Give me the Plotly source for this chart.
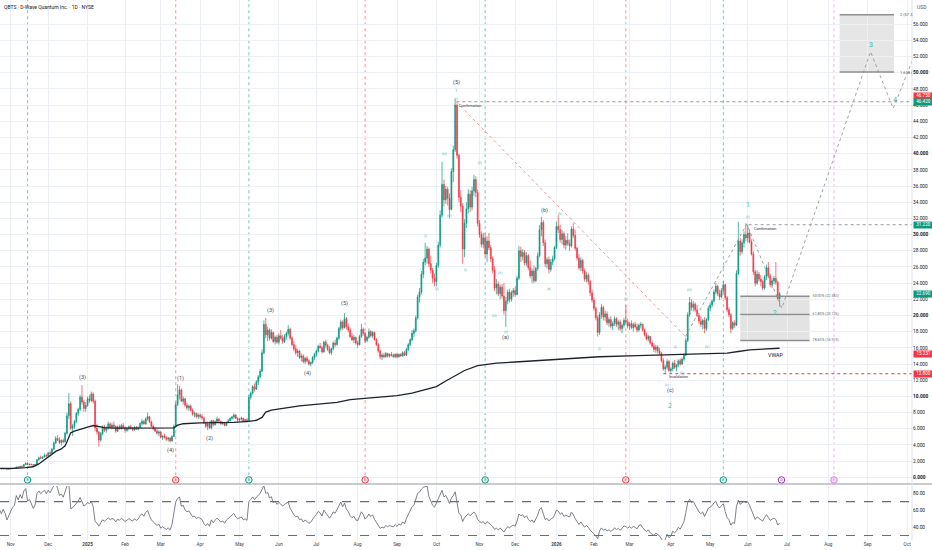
import pandas as pd
import plotly.graph_objects as go

# ---------------- calendar (NYSE holidays in the visible span) ----------------
holidays = ["2024-11-28", "2024-12-25", "2025-01-01", "2025-01-09", "2025-01-20", "2025-02-17",
            "2025-04-18", "2025-05-26", "2025-06-19", "2025-07-04", "2025-09-01", "2025-11-27",
            "2025-12-25", "2026-01-01", "2026-01-19", "2026-02-16", "2026-04-03", "2026-05-25",
            "2026-06-19", "2026-07-03", "2026-09-07"]

# ---------------- daily OHLC, 2024-10-24 .. 2026-06-25 ----------------
open_ = [
    1.02, 1.05, 1.03, 1.06, 1.04, 1.00,
    1.03, 1.05, 1.10, 1.12, 1.27, 1.24, 1.36, 1.33, 1.58, 1.72, 1.56, 1.62, 1.55, 1.48, 1.58, 2.18, 2.42, 2.36, 2.52, 2.70,
    2.62, 3.02, 2.95, 3.48, 4.25, 4.80, 4.62, 4.30, 4.55, 4.40, 5.45, 7.60, 9.10, 6.05, 6.30, 6.90, 7.90, 8.40, 9.90, 9.30, 8.50,
    8.90, 9.70, 9.50, 10.30, 9.40, 6.10, 5.60, 4.60, 5.40, 6.20, 5.80, 6.10, 6.60, 6.20, 6.45, 6.30, 5.70, 6.25, 6.00, 6.40,
    6.10, 5.80, 6.00, 6.25, 6.05, 5.85, 6.20, 5.95, 6.15, 6.65, 6.90, 6.60, 7.20, 7.50, 6.85, 6.30, 6.00, 5.70, 5.45,
    5.60, 4.95, 5.10, 4.90, 4.70, 4.85, 4.50, 5.05, 6.30, 9.00, 10.20, 10.80, 9.40, 9.70, 8.90, 8.60, 8.80, 8.30, 7.80, 7.90, 7.50,
    7.70, 7.50, 7.35, 6.70, 6.30, 6.60, 6.10, 7.00, 6.50, 6.90, 7.20, 6.95, 6.60, 6.75, 6.40, 6.80, 7.00, 7.30, 7.45, 7.70, 7.30,
    7.10, 7.20, 7.30, 7.00, 7.10, 6.95, 9.90, 10.40, 11.20, 10.90, 11.80, 12.40, 13.10, 15.40, 18.90, 17.60, 18.20, 17.20, 17.90, 16.80, 17.30,
    16.70, 17.50, 17.20, 16.80, 17.40, 17.80, 18.30, 17.20, 16.40, 15.90, 15.40, 15.60, 14.80, 15.00, 14.30, 14.70, 14.40, 14.00, 14.20, 14.80,
    15.20, 15.60, 16.20, 16.00, 15.50, 16.70, 16.30, 15.80, 15.40, 15.90, 16.60, 16.40, 17.20, 18.40, 19.20, 18.50, 19.60, 18.60, 18.20, 17.40, 17.00, 17.30,
    16.60, 16.40, 17.40, 18.30, 17.80, 16.90, 17.30, 18.00, 17.50, 17.90, 17.00, 16.40, 15.60, 14.90, 15.10, 14.90, 15.30, 15.00, 15.20, 15.10, 14.90,
    15.20, 14.90, 15.20, 15.00, 15.40, 15.10, 15.80, 16.40, 17.00, 17.80, 18.10, 19.70, 22.30, 22.90, 25.10, 26.60, 27.10, 28.20, 26.40, 25.60, 24.60,
    24.20, 26.20, 28.70, 32.40, 36.20, 34.30, 35.60, 34.50, 33.10, 37.80, 40.50, 46.00, 39.80, 34.60, 33.50, 28.20, 31.40, 33.20, 35.00, 33.40, 35.40, 36.80, 35.20,
    31.40, 30.00, 28.80, 29.60, 27.60, 29.20, 28.40, 27.00, 25.60, 23.40, 23.90, 22.70, 23.50, 22.40, 20.60, 21.80, 22.90, 22.00, 22.80,
    23.10, 22.60, 24.60, 28.00, 27.30, 27.80, 26.50, 27.40, 25.90, 24.90, 25.50, 24.30, 25.80, 27.40, 30.60, 31.50, 29.00, 26.40, 26.90, 25.70, 26.60, 27.00,
    28.40, 31.00, 30.60, 29.40, 30.10, 28.70, 29.30, 28.90, 28.60, 30.70, 29.90, 28.30, 27.10, 25.90, 26.80, 25.50, 24.50, 25.00, 24.20, 22.80,
    21.90, 20.90, 19.70, 17.90, 20.10, 21.00, 19.80, 20.20, 19.10, 19.50, 18.70, 19.00, 19.60, 18.90, 19.20, 18.40, 18.80, 19.40, 19.20,
    18.70, 19.00, 18.50, 18.90, 18.60, 18.20, 18.80, 18.90, 18.20, 17.60, 17.10, 17.40, 16.60, 16.20, 15.80, 16.10, 15.60, 15.30, 14.40, 13.40, 13.60, 14.30,
    13.20, 13.40, 14.10, 13.60, 13.90, 14.40, 14.00, 14.60, 15.10, 16.90, 20.10, 21.60, 21.00, 21.40, 20.70, 20.00, 19.30, 18.90, 19.40, 18.40, 19.50,
    20.90, 21.30, 21.80, 22.90, 23.60, 22.70, 22.30, 23.10, 23.80, 22.20, 20.70, 20.10, 18.40, 19.10, 18.80, 25.20, 29.20, 27.90, 29.00, 30.00,
    29.60, 30.20, 29.10, 27.60, 25.40, 24.00, 25.10, 24.50, 24.20, 23.40, 24.80, 25.90, 24.90, 23.80, 24.30, 24.60, 24.10, 22.10,
]
high_ = [
    1.08, 1.10, 1.08, 1.12, 1.09, 1.06,
    1.08, 1.12, 1.15, 1.30, 1.35, 1.40, 1.45, 1.62, 1.85, 1.80, 1.66, 1.70, 1.62, 1.60, 2.25, 2.55, 2.70, 2.60, 2.95, 2.90,
    3.10, 3.30, 3.60, 4.40, 5.10, 5.20, 4.95, 4.70, 4.80, 5.60, 8.00, 10.40, 9.40, 6.60, 7.10, 8.10, 8.60, 10.20, 11.40, 9.60, 9.30,
    10.00, 10.20, 10.60, 10.50, 9.60, 6.60, 5.70, 5.60, 6.40, 6.50, 6.30, 6.90, 6.80, 6.70, 6.90, 6.40, 6.40, 6.50, 6.60, 6.70,
    6.30, 6.20, 6.40, 6.50, 6.20, 6.30, 6.35, 6.30, 6.80, 7.20, 7.10, 7.40, 8.00, 7.60, 7.00, 6.50, 6.20, 6.00, 5.80,
    5.70, 5.20, 5.40, 5.10, 5.00, 4.95, 5.20, 6.50, 9.30, 11.50, 11.30, 11.00, 10.00, 9.80, 9.20, 9.00, 9.00, 8.50, 8.10, 8.00, 7.90,
    7.90, 7.80, 7.40, 6.90, 6.90, 6.90, 7.10, 7.10, 7.00, 7.50, 7.30, 7.00, 6.90, 6.80, 6.90, 7.20, 7.40, 7.60, 7.90, 7.80, 7.40,
    7.30, 7.50, 7.40, 7.20, 7.30, 10.20, 10.60, 11.40, 11.60, 12.00, 12.60, 13.40, 15.80, 19.40, 19.70, 18.60, 18.40, 18.30, 18.00, 17.50, 17.60,
    17.80, 18.20, 17.60, 17.70, 18.00, 18.80, 18.50, 17.40, 16.80, 16.30, 15.90, 15.70, 15.30, 15.20, 14.90, 15.00, 14.60, 14.30, 15.00, 15.40,
    15.80, 16.40, 16.60, 16.20, 16.90, 17.00, 16.50, 16.20, 16.00, 16.80, 17.00, 17.40, 18.60, 19.50, 19.40, 20.30, 19.80, 19.00, 18.50, 17.80, 17.60, 17.40,
    16.90, 17.60, 19.00, 18.50, 18.00, 17.50, 18.40, 18.20, 18.10, 18.00, 17.20, 16.60, 15.80, 15.30, 15.40, 15.50, 15.40, 15.30, 15.50, 15.30, 15.30,
    15.40, 15.30, 15.30, 15.60, 15.60, 16.00, 16.60, 17.20, 18.20, 18.40, 20.00, 22.60, 23.40, 25.50, 27.00, 29.00, 28.60, 28.40, 27.40, 25.90, 25.20,
    26.50, 29.10, 33.00, 39.00, 36.80, 36.00, 35.90, 35.10, 38.20, 41.00, 46.75, 46.20, 40.00, 35.50, 33.90, 31.90, 34.00, 35.60, 35.50, 35.90, 37.40, 37.20, 35.60,
    31.80, 30.40, 30.20, 30.20, 29.80, 30.20, 28.70, 27.30, 26.10, 24.50, 24.20, 23.80, 23.90, 24.00, 22.30, 23.20, 23.30, 23.10, 23.40,
    23.60, 24.90, 28.60, 28.50, 28.20, 28.10, 27.80, 27.60, 26.80, 25.80, 26.20, 26.00, 27.80, 31.20, 32.20, 31.80, 29.40, 27.20, 27.30, 27.00, 27.40, 28.60,
    31.60, 32.40, 31.20, 30.60, 30.40, 29.80, 30.20, 29.40, 31.00, 31.40, 30.60, 28.50, 27.60, 27.20, 27.00, 25.80, 25.40, 25.30, 24.40, 23.20,
    22.20, 21.10, 20.00, 20.40, 21.40, 21.20, 20.60, 20.50, 19.80, 19.90, 19.30, 19.90, 19.80, 19.40, 19.50, 19.00, 19.70, 21.30, 19.60,
    19.20, 19.40, 19.10, 19.20, 19.00, 19.00, 19.20, 19.00, 18.40, 17.90, 17.60, 17.50, 16.90, 16.60, 16.40, 16.30, 16.00, 15.50, 14.70, 13.90, 14.60, 14.50,
    13.60, 14.30, 14.50, 14.00, 14.60, 14.70, 14.80, 15.30, 17.20, 20.40, 22.30, 22.00, 21.80, 21.60, 21.30, 20.30, 19.90, 19.60, 19.80, 19.70, 21.20,
    21.60, 22.00, 23.20, 24.00, 23.80, 23.20, 23.40, 24.20, 23.90, 22.40, 21.00, 20.30, 19.30, 19.40, 25.60, 31.60, 29.60, 29.40, 30.40, 31.40,
    31.22, 30.60, 29.40, 27.90, 25.60, 25.60, 25.40, 25.00, 24.40, 25.00, 26.30, 26.60, 25.20, 24.60, 24.90, 26.60, 24.30, 22.90,
]
low_ = [
    0.98, 1.00, 0.99, 1.02, 0.98, 0.97,
    1.00, 1.03, 1.06, 1.10, 1.20, 1.22, 1.28, 1.30, 1.50, 1.52, 1.45, 1.50, 1.44, 1.42, 1.55, 2.05, 2.30, 2.25, 2.45, 2.48,
    2.55, 2.85, 2.90, 3.40, 4.10, 4.45, 4.10, 3.95, 4.20, 4.30, 5.30, 7.20, 5.80, 5.10, 6.00, 6.70, 7.60, 8.20, 9.00, 8.10, 8.10,
    8.70, 9.20, 9.30, 9.10, 5.70, 5.30, 3.80, 4.40, 5.20, 5.60, 5.50, 5.90, 6.00, 5.90, 6.10, 5.50, 5.60, 5.90, 5.90, 6.00,
    5.50, 5.60, 5.80, 5.90, 5.70, 5.75, 5.85, 5.80, 6.05, 6.40, 6.50, 6.50, 7.00, 6.70, 6.20, 5.80, 5.60, 5.30, 5.10,
    4.80, 4.60, 4.80, 4.50, 4.40, 4.30, 4.45, 5.00, 6.20, 8.80, 9.60, 9.30, 9.00, 8.70, 8.30, 8.20, 8.10, 7.60, 7.40, 7.30, 7.20,
    7.30, 7.10, 6.60, 6.10, 5.85, 6.00, 5.90, 6.30, 6.40, 6.80, 6.80, 6.50, 6.50, 6.30, 6.35, 6.70, 6.90, 7.10, 7.20, 7.20, 6.90,
    6.90, 7.00, 6.90, 6.80, 6.80, 6.90, 9.60, 10.20, 10.60, 10.80, 11.40, 12.20, 13.00, 15.20, 17.20, 16.80, 16.90, 17.00, 16.60, 16.40, 16.50,
    16.40, 17.00, 16.50, 16.60, 17.00, 17.50, 17.00, 16.20, 15.60, 15.10, 14.90, 14.60, 14.30, 14.10, 14.00, 14.20, 13.80, 13.70, 14.00, 14.50,
    14.90, 15.40, 15.90, 15.30, 15.40, 16.00, 15.60, 15.20, 15.10, 15.70, 16.10, 16.30, 17.00, 18.10, 18.20, 18.40, 18.30, 17.90, 17.20, 16.80, 16.60, 16.40,
    16.00, 16.30, 17.20, 17.50, 16.60, 16.70, 17.10, 17.30, 17.20, 16.90, 16.20, 15.40, 14.60, 14.50, 14.70, 14.80, 14.80, 14.80, 14.90, 14.80, 14.70,
    14.70, 14.80, 14.90, 14.90, 15.00, 15.00, 15.60, 16.20, 16.80, 17.30, 17.90, 19.50, 21.60, 22.60, 24.60, 26.20, 26.40, 26.00, 25.20, 24.00, 23.60,
    23.60, 25.90, 28.40, 32.10, 33.50, 33.80, 33.60, 32.00, 33.00, 36.50, 40.20, 39.40, 34.00, 32.80, 26.40, 27.20, 30.80, 32.60, 32.80, 33.00, 34.80, 34.60, 31.00,
    29.60, 28.40, 28.30, 27.20, 26.60, 28.10, 26.60, 25.20, 23.00, 22.60, 22.40, 22.00, 22.10, 20.10, 18.60, 21.40, 21.60, 21.70, 22.30,
    22.30, 22.50, 24.40, 26.60, 26.80, 26.20, 26.10, 25.60, 24.60, 24.00, 24.00, 24.10, 25.50, 27.20, 29.80, 28.60, 26.00, 25.80, 25.20, 25.40, 26.20, 26.80,
    28.20, 30.20, 29.00, 28.80, 28.30, 28.10, 28.60, 28.00, 28.40, 29.60, 28.00, 26.80, 25.60, 25.50, 25.20, 24.20, 24.10, 23.80, 22.40, 21.60,
    20.60, 19.40, 17.40, 17.60, 19.60, 19.40, 19.30, 18.80, 18.60, 18.40, 18.20, 18.70, 18.60, 18.20, 18.10, 17.80, 18.50, 19.00, 18.40,
    18.20, 18.30, 18.00, 18.40, 17.90, 18.00, 18.40, 18.00, 17.40, 16.90, 16.80, 16.40, 16.00, 15.50, 15.40, 15.30, 15.10, 14.20, 13.20, 12.80, 13.30, 13.00,
    12.90, 13.10, 13.40, 13.10, 13.60, 13.80, 13.90, 14.40, 15.00, 16.70, 19.80, 20.60, 20.50, 20.40, 19.80, 19.00, 18.60, 18.30, 17.80, 18.10, 19.30,
    20.50, 21.00, 21.60, 22.60, 22.40, 21.90, 22.10, 22.80, 21.90, 20.40, 19.80, 17.80, 18.20, 18.50, 18.70, 25.00, 27.40, 27.60, 28.40, 29.20,
    29.00, 28.90, 27.40, 25.00, 23.60, 23.80, 24.20, 23.60, 23.10, 23.20, 24.40, 24.60, 23.50, 23.40, 23.90, 23.80, 21.90, 21.10,
]
close_ = [
    1.05, 1.03, 1.06, 1.04, 1.00, 1.03,
    1.05, 1.10, 1.12, 1.27, 1.24, 1.36, 1.33, 1.58, 1.72, 1.56, 1.62, 1.55, 1.48, 1.58, 2.18, 2.42, 2.36, 2.52, 2.70, 2.62,
    3.02, 2.95, 3.48, 4.25, 4.80, 4.62, 4.30, 4.55, 4.40, 5.45, 7.60, 9.10, 6.05, 6.30, 6.90, 7.90, 8.40, 9.90, 9.30, 8.50, 8.90,
    9.70, 9.50, 10.30, 9.40, 6.10, 5.60, 4.60, 5.40, 6.20, 5.80, 6.10, 6.60, 6.20, 6.45, 6.30, 5.70, 6.25, 6.00, 6.40, 6.10,
    5.80, 6.00, 6.25, 6.05, 5.85, 6.20, 5.95, 6.15, 6.65, 6.90, 6.60, 7.20, 7.50, 6.85, 6.30, 6.00, 5.70, 5.45, 5.60,
    4.95, 5.10, 4.90, 4.70, 4.85, 4.50, 5.05, 6.30, 9.00, 10.20, 10.80, 9.40, 9.70, 8.90, 8.60, 8.80, 8.30, 7.80, 7.90, 7.50, 7.70,
    7.50, 7.35, 6.70, 6.30, 6.60, 6.10, 7.00, 6.50, 6.90, 7.20, 6.95, 6.60, 6.75, 6.40, 6.80, 7.00, 7.30, 7.45, 7.70, 7.30, 7.10,
    7.20, 7.30, 7.00, 7.10, 6.95, 9.90, 10.40, 11.20, 10.90, 11.80, 12.40, 13.10, 15.40, 18.90, 17.60, 18.20, 17.20, 17.90, 16.80, 17.30, 16.70,
    17.50, 17.20, 16.80, 17.40, 17.80, 18.30, 17.20, 16.40, 15.90, 15.40, 15.60, 14.80, 15.00, 14.30, 14.70, 14.40, 14.00, 14.20, 14.80, 15.20,
    15.60, 16.20, 16.00, 15.50, 16.70, 16.30, 15.80, 15.40, 15.90, 16.60, 16.40, 17.20, 18.40, 19.20, 18.50, 19.60, 18.60, 18.20, 17.40, 17.00, 17.30, 16.60,
    16.40, 17.40, 18.30, 17.80, 16.90, 17.30, 18.00, 17.50, 17.90, 17.00, 16.40, 15.60, 14.90, 15.10, 14.90, 15.30, 15.00, 15.20, 15.10, 14.90, 15.20,
    14.90, 15.20, 15.00, 15.40, 15.10, 15.80, 16.40, 17.00, 17.80, 18.10, 19.70, 22.30, 22.90, 25.10, 26.60, 27.10, 28.20, 26.40, 25.60, 24.60, 24.20,
    26.20, 28.70, 32.40, 36.20, 34.30, 35.60, 34.50, 33.10, 37.80, 40.50, 46.00, 39.80, 34.60, 33.50, 28.20, 31.40, 33.20, 35.00, 33.40, 35.40, 36.80, 35.20, 31.40,
    30.00, 28.80, 29.60, 27.60, 29.20, 28.40, 27.00, 25.60, 23.40, 23.90, 22.70, 23.50, 22.40, 20.60, 21.80, 22.90, 22.00, 22.80, 23.10,
    22.60, 24.60, 28.00, 27.30, 27.80, 26.50, 27.40, 25.90, 24.90, 25.50, 24.30, 25.80, 27.40, 30.60, 31.50, 29.00, 26.40, 26.90, 25.70, 26.60, 27.00, 28.40,
    31.00, 30.60, 29.40, 30.10, 28.70, 29.30, 28.90, 28.60, 30.70, 29.90, 28.30, 27.10, 25.90, 26.80, 25.50, 24.50, 25.00, 24.20, 22.80, 21.90,
    20.90, 19.70, 17.90, 20.10, 21.00, 19.80, 20.20, 19.10, 19.50, 18.70, 19.00, 19.60, 18.90, 19.20, 18.40, 18.80, 19.40, 19.20, 18.70,
    19.00, 18.50, 18.90, 18.60, 18.20, 18.80, 18.90, 18.20, 17.60, 17.10, 17.40, 16.60, 16.20, 15.80, 16.10, 15.60, 15.30, 14.40, 13.40, 13.60, 14.30, 13.20,
    13.40, 14.10, 13.60, 13.90, 14.40, 14.00, 14.60, 15.10, 16.90, 20.10, 21.60, 21.00, 21.40, 20.70, 20.00, 19.30, 18.90, 19.40, 18.40, 19.50, 20.90,
    21.30, 21.80, 22.90, 23.60, 22.70, 22.30, 23.10, 23.80, 22.20, 20.70, 20.10, 18.40, 19.10, 18.80, 25.20, 29.20, 27.90, 29.00, 30.00, 29.60,
    30.20, 29.10, 27.60, 25.40, 24.00, 25.10, 24.50, 24.20, 23.40, 24.80, 25.90, 24.90, 23.80, 24.30, 24.60, 24.10, 22.10, 22.69,
]
# closes before the visible window (seed for the RSI)
pre_close = [0.96, 0.99, 0.97, 1.00, 1.03, 1.01, 0.99, 1.02, 1.04, 1.01, 1.03, 1.06, 1.03, 1.00, 1.02]

# anchored VWAP
vwap_dates = ["2024-10-24", "2024-11-05", "2024-11-13", "2024-11-19", "2024-11-22", "2024-11-27", "2024-12-03",
              "2024-12-06", "2024-12-11", "2024-12-13", "2024-12-16", "2024-12-17", "2024-12-18", "2024-12-20",
              "2024-12-26", "2025-01-02", "2025-01-07", "2025-01-10", "2025-01-16", "2025-01-27", "2025-02-13",
              "2025-03-07", "2025-03-12", "2025-03-14", "2025-03-19", "2025-04-01", "2025-04-28", "2025-05-08",
              "2025-05-14", "2025-05-19", "2025-05-21", "2025-05-27", "2025-06-10", "2025-06-17", "2025-07-02",
              "2025-07-17", "2025-07-28", "2025-08-14", "2025-09-02", "2025-09-12", "2025-09-22", "2025-10-01",
              "2025-10-08", "2025-10-15", "2025-10-22", "2025-10-31", "2025-11-14", "2025-12-01", "2025-12-22",
              "2026-01-07", "2026-02-05", "2026-03-06", "2026-03-27", "2026-04-20", "2026-05-14", "2026-05-22",
              "2026-06-02", "2026-06-25"]
vwap_values = [1.10, 1.10, 1.20, 1.30, 1.65, 2.20, 2.75,
               3.20, 3.50, 3.90, 4.40, 5.00, 5.50, 5.70,
               5.95, 6.20, 6.40, 6.30, 6.15, 6.08, 6.05,
               6.02, 6.10, 6.45, 6.62, 6.72, 6.78, 6.90,
               7.05, 7.40, 8.05, 8.30, 8.65, 8.82, 9.05,
               9.25, 9.60, 9.85, 10.10, 10.40, 10.75, 11.20,
               11.90, 12.50, 13.20, 13.80, 14.10, 14.25, 14.45,
               14.60, 14.90, 15.05, 15.15, 15.30, 15.35, 15.55,
               15.75, 15.95]

# earnings / events strip
event_dates = ["2024-11-14", "2025-03-13", "2025-05-08", "2025-08-07", "2025-11-06",
               "2026-02-26", "2026-05-12", "2026-06-26", "2026-08-06"]
event_kinds = ["beat", "miss", "beat", "miss", "beat", "miss", "beat", "div", "next"]

# ---------------- build axes helpers ----------------
hol = set(pd.to_datetime(holidays))
cal = [d for d in pd.bdate_range("2024-10-24", "2026-10-31") if d not in hol]
pos = {d.strftime("%Y-%m-%d"): i for i, d in enumerate(cal)}
n = len(close_)
xs = list(range(n))

tickvals, ticktext, seen = [], [], set()
for i, d in enumerate(cal):
    key = (d.year, d.month)
    if key in seen:
        continue
    seen.add(key)
    if d < pd.Timestamp("2024-11-01"):
        continue
    tickvals.append(i)
    ticktext.append(f"<b>{d.year}</b>" if d.month == 1 else d.strftime("%b"))

# RSI(14), Wilder smoothing
s = pd.Series(pre_close + close_, dtype=float)
dlt = s.diff().fillna(0.0)
up = dlt.clip(lower=0).ewm(alpha=1 / 14, adjust=False).mean()
dn = (-dlt.clip(upper=0)).ewm(alpha=1 / 14, adjust=False).mean()
rsi = (100 - 100 / (1 + up / dn)).iloc[len(pre_close):].round(2).tolist()

UP, DN = "#089981", "#f23645"
TEAL = "#3fb8a8"
GRID = "#eceff3"
DARK = "#4a4d57"
FONT = "Roboto, DejaVu Sans, sans-serif"

fig = go.Figure()

# fib retracement box
fib_x0, fib_x1 = pos["2026-05-26"], pos["2026-07-20"]
fig.add_shape(type="rect", x0=fib_x0, x1=fib_x1, y0=16.913, y1=22.382, xref="x", yref="y",
              fillcolor="#e3e3e3", line=dict(width=0), layer="below")
for lv in (22.382, 20.126, 16.913):
    fig.add_shape(type="line", x0=fib_x0, x1=fib_x1, y0=lv, y1=lv, xref="x", yref="y",
                  line=dict(color="#8e8e8e", width=1.4))
# target box
tg_x0, tg_x1 = pos["2026-08-11"], pos["2026-09-22"]
fig.add_shape(type="rect", x0=tg_x0, x1=tg_x1, y0=50.10, y1=57.18, xref="x", yref="y",
              fillcolor="#e6e6e6", line=dict(width=0), layer="below")
for lv in (57.18, 50.10):
    fig.add_shape(type="line", x0=tg_x0, x1=tg_x1, y0=lv, y1=lv, xref="x", yref="y",
                  line=dict(color="#8e8e8e", width=1.4))

# event vertical lines
ev_col = {"beat": UP, "miss": DN, "next": "#d67de3", "div": "#9c27b0"}
for d, k in zip(event_dates, event_kinds):
    if k == "div":
        continue
    fig.add_shape(type="line", x0=pos[d], x1=pos[d], y0=0.25, y1=60, xref="x", yref="y",
                  line=dict(color=ev_col[k], width=1, dash="dot"), opacity=0.55, layer="below")

# horizontal dotted levels
XR = 490
fig.add_shape(type="line", x0=243.6, x1=XR, y0=46.42, y1=46.42, xref="x", yref="y",
              line=dict(color="#9a9a9a", width=1, dash="dot"))
fig.add_shape(type="line", x0=399.5, x1=XR, y0=31.22, y1=31.22, xref="x", yref="y",
              line=dict(color="#9a9a9a", width=1, dash="dot"))
fig.add_shape(type="line", x0=354, x1=XR, y0=12.80, y1=12.80, xref="x", yref="y",
              line=dict(color=DN, width=1, dash="dot"))
# trendline from the top
fig.add_shape(type="line", x0=243.6, x1=365.8, y0=46.42, y1=17.4, xref="x", yref="y",
              line=dict(color="#ef9a9a", width=1, dash="dot"))
# wave path (grey dotted)
fig.add_trace(go.Scatter(x=[365.8, 398.5, 417.2, 464.5, 476.6, 489],
                         y=[17.4, 31.3, 20.9, 52.6, 45.6, 52.8],
                         mode="lines", line=dict(color="#a0a0a0", width=1, dash="dot"),
                         hoverinfo="skip", xaxis="x", yaxis="y"))

# candles
fig.add_trace(go.Candlestick(x=xs, open=open_, high=high_, low=low_, close=close_,
                             increasing=dict(line=dict(color=UP, width=0.7), fillcolor=UP),
                             decreasing=dict(line=dict(color=DN, width=0.7), fillcolor=DN),
                             whiskerwidth=0, hoverinfo="skip", xaxis="x", yaxis="y"))
# VWAP
fig.add_trace(go.Scatter(x=[pos[d] for d in vwap_dates], y=vwap_values, mode="lines",
                         line=dict(color="#1e222d", width=1.3), hoverinfo="skip", xaxis="x", yaxis="y"))
# RSI
fig.add_trace(go.Scatter(x=xs, y=rsi, mode="lines", line=dict(color="#5d606b", width=0.8),
                         hoverinfo="skip", xaxis="x2", yaxis="y2"))

# event markers
fig.add_trace(go.Scatter(
    x=[pos[d] for d in event_dates], y=[-0.33] * len(event_dates), mode="markers+text",
    marker=dict(size=6.5, color=["#e3f4f1" if k == "beat" else "#fde6e8" if k == "miss" else
                                 "#f6dcf9" if k == "next" else "#ffffff" for k in event_kinds],
                line=dict(width=1, color=[ev_col[k] for k in event_kinds])),
    text=["D" if k == "div" else "E" for k in event_kinds], textposition="middle center",
    textfont=dict(size=3.6, color=[ev_col[k] for k in event_kinds], family=FONT),
    hoverinfo="skip", cliponaxis=False, xaxis="x", yaxis="y"))

# fib level labels of the lower box
fig.add_trace(go.Scatter(x=[433.6] * 3, y=[22.382, 20.126, 16.913], mode="text",
                         text=["50.00% (22.382)", "61.80% (20.126)", "78.60% (16.913)"],
                         textposition="middle right", textfont=dict(size=3.6, color="#666", family=FONT),
                         hoverinfo="skip", cliponaxis=True, xaxis="x", yaxis="y"))

ann = []


def lab(x, y, text, size, color, xanchor="center"):
    ann.append(dict(x=x, y=y, xref="x", yref="y", text=text, showarrow=False,
                    font=dict(size=size, color=color, family=FONT), xanchor=xanchor, yanchor="middle"))


# target box labels (cut at the price scale as in the chart)
lab(478.9, 57.18, "2 (57.3", 4.0, "#555", "left")
lab(478.9, 50.10, "1.618 (", 4.0, "#555", "left")

# Elliott wave labels (dark)
for x, y, t in [(44.4, 12.36, "(3)"), (91.0, 3.37, "(4)"), (96.3, 12.27, "(1)"), (112.0, 4.77, "(2)"),
                (144.4, 20.59, "(3)"), (164.3, 12.83, "(4)"), (184.0, 21.51, "(5)"), (243.5, 48.86, "(5)"),
                (270.1, 17.26, "(a)"), (290.4, 33.04, "(b)"), (357.8, 10.79, "(c)")]:
    lab(x, y, t, 5.6, DARK)
# teal primary counts
for x, y, t, sz in [(243.5, 47.87, "1", 4.4), (357.4, 8.81, "2", 6.6), (399.4, 33.70, "1", 6.6),
                    (413.8, 20.31, "2", 6.6), (464.5, 53.44, "3", 7.2), (477.3, 46.64, "4", 7.2)]:
    lab(x, y, t, sz, TEAL)
# teal minor counts
for x, y, t in [(227.2, 29.83, "(i)"), (233.3, 23.28, "(ii)"), (237.2, 39.96, "(iii)"), (240.0, 32.30, "(iv)"),
                (243.5, 46.82, "(v)"), (248.4, 25.63, "(i)"), (256.0, 38.85, "(ii)"), (264.1, 19.94, "(iii)"),
                (267.1, 25.25, "(iv)"), (270.3, 17.96, "(v)"), (292.9, 23.24, "(a)"), (298.7, 32.55, "(b)"),
                (319.9, 15.86, "(i)"), (334.2, 22.04, "(ii)"), (356.0, 11.41, "(v)"), (360.5, 16.11, "(i)"),
                (364.1, 12.89, "(ii)"), (368.1, 23.15, "(iii)"), (377.4, 16.11, "(iv)"), (399.1, 32.18, "(v)")]:
    lab(x, y, t, 3.2, TEAL)
# texts
lab(244.0, 45.98, "Confirmation", 3.9, "#2a2e39", "left")
lab(401.4, 30.73, "Confirmation", 3.9, "#2a2e39", "left")
lab(356.0, 12.36, "Invalidation", 3.7, "#2a2e39", "left")
lab(414.1, 15.12, "VWAP", 5.4, "#131722")

# price tags on the axis
for y, t, c in [(47.15, "46.750", DN), (46.42, "46.420", UP), (31.22, "31.220", UP),
                (22.69, "22.690", UP), (15.28, "15.231", DN), (12.80, "12.800", DN)]:
    ann.append(dict(x=1, xref="paper", xanchor="left", xshift=0.5, y=y, yref="y", yanchor="middle",
                    text=t, showarrow=False, bgcolor=c, width=19, height=5.5, borderpad=0,
                    font=dict(size=4.6, color="white", family=FONT)))
# header
ann.append(dict(x=0, y=1, xref="paper", yref="paper", xanchor="left", yanchor="top", xshift=2, yshift=-2,
                text="QBTS · D-Wave Quantum Inc. · 1D · NYSE", showarrow=False,
                font=dict(size=5.0, color="#131722", family=FONT)))
ann.append(dict(x=1, y=1, xref="paper", yref="paper", xanchor="left", yanchor="top", xshift=3, yshift=-2,
                text="USD", showarrow=False, font=dict(size=5.0, color="#555", family=FONT)))

# pane separator and axis border
fig.add_shape(type="line", x0=0, x1=1.03, y0=1 - 484 / 540, y1=1 - 484 / 540, xref="paper", yref="paper",
              line=dict(color="#9598a1", width=1.2))
fig.add_shape(type="line", x0=1, x1=1, y0=0, y1=1, xref="paper", yref="paper",
              line=dict(color="#e0e3eb", width=1))
for lv in (70, 30):
    fig.add_shape(type="line", x0=0, x1=1, y0=lv, y1=lv, xref="paper", yref="y2",
                  line=dict(color="#6a6d78", width=1.2, dash="dash"))

ytv = list(range(0, 58, 2))
ytt = [f"<b>{v:.3f}</b>" if v % 10 == 0 else f"{v:.3f}" for v in ytv]
XL, XRNG = 0.288, 486.6

fig.update_layout(
    width=932, height=550, margin=dict(l=0, r=20, t=0, b=10),
    paper_bgcolor="white", plot_bgcolor="white", showlegend=False, hovermode=False,
    font=dict(family=FONT, size=5, color="#131722"),
    annotations=ann,
    xaxis=dict(domain=[0, 1], range=[XL, XRNG], anchor="y", tickvals=tickvals, showticklabels=False,
               showgrid=True, gridcolor=GRID, gridwidth=1, zeroline=False, ticks="", showline=False,
               rangeslider=dict(visible=False), fixedrange=True),
    xaxis2=dict(domain=[0, 1], range=[XL, XRNG], anchor="y2", matches="x", tickvals=tickvals, ticktext=ticktext,
                tickfont=dict(size=4.6, color="#3a3e4a"), showgrid=True, gridcolor=GRID, zeroline=False,
                ticks="", showline=False, fixedrange=True),
    yaxis=dict(domain=[1 - 484 / 540, 1], range=[-0.83, 59.0], side="right", tickvals=ytv, ticktext=ytt,
               tickfont=dict(size=4.8, color="#131722"), showgrid=True, gridcolor=GRID, zeroline=False,
               ticks="", showline=False, fixedrange=True),
    yaxis2=dict(domain=[0, 0.1], range=[24.7, 88.6], side="right", tickvals=[40, 60, 80],
                ticktext=["40.00", "60.00", "80.00"], tickfont=dict(size=4.8, color="#131722"),
                showgrid=False, zeroline=False, ticks="", showline=False, fixedrange=True),
)

fig.write_html("out.html", config={"displayModeBar": False},
               post_script="document.body.style.margin='0px';document.body.style.padding='0px';")
